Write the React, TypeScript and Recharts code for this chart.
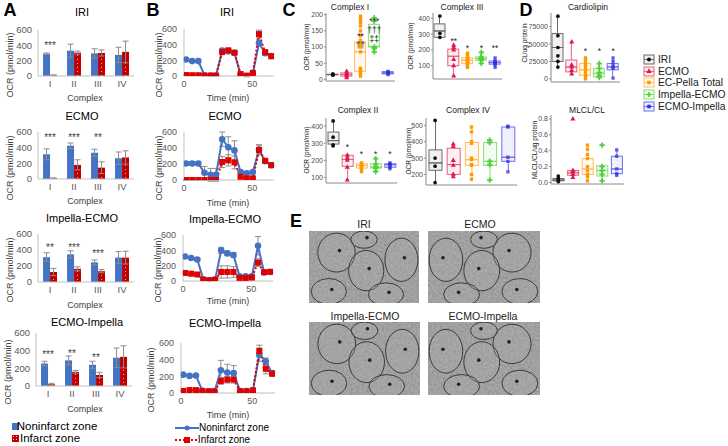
import React from 'react';
import {
  ComposedChart, LineChart, Bar, Line, Scatter, XAxis, YAxis, ErrorBar, Symbols,
} from 'recharts';

const FONT = '"Liberation Sans", Arial, Helvetica, sans-serif';
const BLUE = '#4472C4';
const RED = '#C00000';
const LINE_RED = '#E00000';

// ---------- A: OCR per complex, noninfarct vs infarct ----------
const COMPLEXES = ['I', 'II', 'III', 'IV'];
const MODELS = ['IRI', 'ECMO', 'Impella-ECMO', 'ECMO-Impella'];
const A_NON = [[290, 330, 295, 275], [315, 425, 335, 265], [310, 345, 245, 305], [255, 290, 240, 320]];
const A_NON_ERR = [[10, 85, 60, 100], [70, 35, 45, 80], [55, 45, 30, 75], [25, 50, 40, 110]];
const A_INF = [[10, 305, 300, 315], [10, 180, 145, 275], [125, 165, 135, 305], [20, 160, 125, 330]];
const A_INF_ERR = [[5, 20, 40, 140], [5, 65, 75, 85], [45, 25, 20, 80], [10, 15, 30, 125]];
const A_STARS = [['***', '', '', ''], ['***', '***', '**', ''], ['**', '***', '***', ''], ['***', '**', '**', '']];
const A_STAR_AT = [[430, null, null, null], [550, 550, 550, null], [460, 460, 380, null], [375, 385, 350, null]];
const OCR_TICKS = [0, 200, 400, 600];

// ---------- B: OCR traces over time ----------
const B_TIME = [1.5, 6, 10.5, 15, 19.5, 23.5, 28, 32.5, 37, 41.5, 46, 50.5, 55, 59.5, 64];
const B_NON = [
  [210, 190, 190, 10, 5, 5, 325, 315, 295, 15, 0, 30, 420, 290, 255],
  [207, 207, 207, 90, 65, 65, 510, 410, 370, 100, 85, 100, 380, 235, 185],
  [320, 300, 280, 20, 10, 15, 400, 360, 340, 60, 60, 60, 460, 110, 118],
  [220, 205, 210, 25, 20, 20, 272, 245, 238, 22, 22, 32, 460, 380, 238],
];
const B_NON_ERR = [
  [10, 10, 10, 5, 5, 5, 20, 20, 20, 10, 10, 10, 40, 20, 20],
  [20, 20, 20, 80, 80, 80, 90, 130, 120, 20, 20, 20, 60, 20, 20],
  [15, 15, 15, 10, 10, 10, 40, 30, 30, 10, 10, 10, 120, 10, 10],
  [10, 10, 10, 5, 5, 5, 120, 100, 90, 5, 5, 5, 80, 40, 30],
];
const B_INF = [
  [12, 10, 10, 5, 5, 5, 305, 328, 298, 25, 5, 40, 535, 305, 252],
  [0, 0, 0, 0, 0, 0, 225, 245, 220, 40, 20, 20, 375, 240, 185],
  [105, 95, 85, 18, 10, 18, 118, 118, 118, 40, 40, 45, 240, 115, 120],
  [25, 35, 35, 25, 20, 20, 145, 160, 160, 22, 22, 32, 504, 290, 232],
];
const B_INF_ERR = [
  [5, 5, 5, 5, 5, 5, 20, 20, 20, 10, 5, 10, 50, 20, 20],
  [5, 5, 5, 5, 5, 5, 70, 70, 80, 10, 10, 10, 60, 20, 10],
  [10, 10, 10, 5, 5, 5, 80, 80, 70, 20, 20, 20, 50, 10, 10],
  [5, 10, 10, 5, 5, 5, 40, 40, 40, 5, 5, 5, 70, 60, 30],
];

// ---------- C / D: box plots ----------
const GROUPS = ['IRI', 'ECMO', 'EC-Pella Total', 'Impella-ECMO', 'ECMO-Impella'];
const G_POINT = ['#111111', '#E0174F', '#FF9900', '#4FCF3C', '#2F2FE0'];
const G_BOX = ['#6b6b6b', '#E8607F', '#FFBF5E', '#86E073', '#6f6fee'];
const G_SHAPE = ['circle', 'triangle', 'square', 'cross', 'square'];

// [min, q1, median, q3, max]
const C1_BOX = [[13, 14, 15, 16, 17], [5, 10, 15, 20, 25], [10, 25, 85, 115, 195], [85, 100, 102, 170, 190], [15, 17, 20, 24, 25]];
const C1_PTS = [[13, 15, 17], [5, 10, 15, 20, 25], [10, 15, 22, 30, 35, 85, 100, 110, 120, 135, 150, 165, 175, 185, 195], [85, 95, 100, 180, 190], [15, 18, 20, 23, 25]];
const C1_NOTES: [number, number, string][] = [[3, 138, '**'], [3, 108, '††'], [4, 184, '***'], [4, 156, '†††'], [4, 128, '‡‡']];

const C3_BOX = [[280, 280, 320, 365, 415], [35, 100, 160, 205, 230], [90, 115, 135, 150, 180], [115, 135, 145, 155, 185], [90, 110, 120, 130, 150]];
const C3_PTS = [[280, 305, 415], [35, 100, 140, 200, 215, 230], [90, 100, 110, 115, 120, 125, 130, 135, 140, 145, 150, 160, 170, 180], [115, 135, 140, 150, 155, 185], [90, 105, 115, 120, 125, 130, 150]];
const C3_NOTES: [number, number, string][] = [[2, 262, '**'], [3, 219, '*'], [4, 219, '*'], [5, 219, '**']];

const C2_BOX = [[285, 295, 315, 365, 430], [85, 165, 205, 230, 235], [135, 155, 170, 180, 185], [135, 155, 160, 180, 210], [150, 160, 175, 180, 185]];
const C2_PTS = [[285, 290, 335, 430], [85, 160, 200, 215, 230], [135, 145, 155, 160, 165, 170, 175, 180, 185], [135, 155, 160, 165, 180, 210], [150, 160, 170, 175, 180, 185]];
const C2_NOTES: [number, number, string][] = [[2, 281, '*'], [3, 241, '*'], [4, 241, '*'], [5, 241, '*']];

const C4_BOX = [[150, 225, 270, 350, 530], [185, 200, 260, 360, 385], [170, 255, 290, 395, 490], [165, 255, 280, 395, 410], [215, 280, 305, 490, 495]];
const C4_PTS = [[150, 250, 300, 530], [185, 200, 255, 285, 370, 385], [170, 200, 255, 260, 290, 300, 390, 400, 460, 490], [165, 260, 280, 395, 410], [215, 280, 305, 490, 495]];

const CL_BOX = [[17000, 25000, 45000, 65000, 90000], [7000, 10000, 17000, 27000, 53000], [0, 5000, 13000, 22000, 30000], [2000, 3000, 8000, 15000, 22000], [1000, 13000, 17000, 22000, 30000]];
const CL_PTS = [[17000, 25000, 33000, 45000, 62000, 90000], [7000, 12000, 17000, 20000, 53000], [0, 3000, 6000, 10000, 14000, 18000, 22000, 26000, 30000], [2000, 5000, 9000, 15000, 22000], [1000, 15000, 17000, 20000, 25000, 30000]];
const CL_NOTES: [number, number, string][] = [[3, 41000, '*'], [4, 41000, '*'], [5, 41000, '*']];

const ML_BOX = [[0.01, 0.02, 0.03, 0.05, 0.08], [0.06, 0.09, 0.12, 0.15, 0.16], [0.02, 0.1, 0.17, 0.3, 0.47], [0.02, 0.08, 0.15, 0.21, 0.22], [0.09, 0.11, 0.17, 0.33, 0.41]];
const ML_PTS = [[0.01, 0.03, 0.05, 0.08], [0.06, 0.1, 0.13, 0.15, 0.8], [0.02, 0.07, 0.1, 0.15, 0.2, 0.3, 0.35, 0.42, 0.47], [0.02, 0.1, 0.15, 0.2, 0.47], [0.09, 0.11, 0.17, 0.33, 0.41]];

// ---------- layout ----------
type Rect = [number, number, number, number];
const A_PLOTS: Rect[] = [[38, 30, 134, 76], [38, 132, 134, 179], [38, 234, 134, 282], [36, 333, 132, 386]];
const A_TITLES = [[82, 12], [82, 116], [82, 218], [87, 322]];
const A_XLAB = [98, 201, 305, 409];
const B_PLOTS: Rect[] = [[184, 29, 274, 76], [184, 132, 274, 180], [183, 235, 273, 281], [181, 343, 275, 393]];
const B_TITLES = [[227, 12], [225, 116], [225, 219], [225, 323]];
const B_XLAB = [98, 203, 301, 415];
const B_YLAB_X = [159, 159, 158, 151];

function frame(r: Rect, yw: number, xh: number, mt = 2, mr = 4) {
  const [x0, y0, x1, y1] = r;
  return {
    left: x0 - yw, top: y0 - mt,
    w: yw + (x1 - x0) + mr, h: mt + (y1 - y0) + xh,
    margin: { top: mt, right: mr, bottom: 0, left: 0 },
  };
}

function Txt({ x, y, size = 10, rot = 0, weight = 400, color = '#000', children }: any) {
  return (
    <div style={{
      position: 'absolute', left: x, top: y, transform: `translate(-50%,-50%) rotate(${rot}deg)`,
      fontSize: size, fontWeight: weight, color, whiteSpace: 'nowrap', lineHeight: 1, zIndex: 2,
    }}>{children}</div>
  );
}

const starDot = (p: any) => {
  const s = p.payload?.star;
  if (!s || p.cy == null || isNaN(p.cy)) return <g key={p.index} />;
  return <text key={p.index} x={p.cx} y={p.cy + 5.5} textAnchor="middle" fontSize={10} fill="#404040">{s}</text>;
};

const TICK_A = { fontSize: 9.5, fill: '#595959' };
const TICK_B = { fontSize: 9, fill: '#595959' };

function OcrBars({ k }: { k: number }) {
  const rows = COMPLEXES.map((c, i) => ({
    c, non: A_NON[k][i], nonErr: A_NON_ERR[k][i], inf: A_INF[k][i], infErr: A_INF_ERR[k][i],
    star: A_STARS[k][i], starY: A_STAR_AT[k][i],
  }));
  const f = frame(A_PLOTS[k], 34, 16, 8);
  const pid = `dots${k}`;
  return (
    <div style={{ position: 'absolute', left: f.left, top: f.top }}>
      <ComposedChart width={f.w} height={f.h} data={rows} margin={f.margin} barGap={0} barCategoryGap="21%">
        <defs>
          <pattern id={pid} width="4" height="4" patternUnits="userSpaceOnUse">
            <rect width="4" height="4" fill={RED} />
            <circle cx="1.5" cy="1.5" r="0.55" fill="#ffc4c4" />
          </pattern>
        </defs>
        <XAxis dataKey="c" tickLine={false} tickMargin={-2} tick={TICK_A} interval={0}
          axisLine={{ stroke: '#bfbfbf' }} height={16} />
        <YAxis type="number" domain={[0, 600]} ticks={OCR_TICKS} interval={0} allowDataOverflow tickLine={false}
          tickMargin={0} tick={TICK_A} axisLine={{ stroke: '#bfbfbf' }} width={34} />
        <Bar dataKey="non" fill={BLUE} isAnimationActive={false}>
          <ErrorBar dataKey="nonErr" width={3} stroke="#8c8c8c" strokeWidth={1} />
        </Bar>
        <Bar dataKey="inf" fill={`url(#${pid})`} isAnimationActive={false}>
          <ErrorBar dataKey="infErr" width={3} stroke="#8c8c8c" strokeWidth={1} />
        </Bar>
        <Line dataKey="starY" stroke="none" dot={starDot} activeDot={false} isAnimationActive={false} />
      </ComposedChart>
    </div>
  );
}

const squareDot = (p: any) => {
  if (p.cy == null || isNaN(p.cy)) return <g key={p.index} />;
  return <rect key={p.index} x={p.cx - 3} y={p.cy - 3} width={6} height={6} fill={LINE_RED} />;
};

function OcrTrace({ k }: { k: number }) {
  const rows = B_TIME.map((t, i) => ({
    t, non: B_NON[k][i], nonErr: B_NON_ERR[k][i], inf: B_INF[k][i], infErr: B_INF_ERR[k][i],
  }));
  const f = frame(B_PLOTS[k], 24, 16, 8);
  return (
    <div style={{ position: 'absolute', left: f.left, top: f.top }}>
      <LineChart width={f.w} height={f.h} data={rows} margin={f.margin}>
        <XAxis dataKey="t" type="number" domain={[0, 66]} ticks={[0, 50]} interval={0} allowDataOverflow tickLine={false}
          tickMargin={-1} tick={TICK_B} axisLine={{ stroke: '#bfbfbf' }} height={16} />
        <YAxis type="number" domain={[0, 600]} ticks={OCR_TICKS} interval={0} allowDataOverflow tickLine={false}
          tickMargin={1} tick={TICK_B} axisLine={{ stroke: '#bfbfbf' }} width={24} />
        <Line dataKey="non" stroke={BLUE} strokeWidth={2} dot={{ r: 2.3, fill: BLUE, stroke: BLUE }} activeDot={false} isAnimationActive={false}>
          <ErrorBar dataKey="nonErr" width={3} stroke="#8c8c8c" strokeWidth={1} direction="y" />
        </Line>
        <Line dataKey="inf" stroke={LINE_RED} strokeWidth={2} strokeDasharray="2 2" dot={squareDot} activeDot={false} isAnimationActive={false}>
          <ErrorBar dataKey="infErr" width={3} stroke="#8c8c8c" strokeWidth={1} direction="y" />
        </Line>
      </LineChart>
    </div>
  );
}

const gOf = (p: any) => (p.payload?.g ?? p.index + 1) - 1;
const whisker = (p: any) => {
  const c = G_BOX[gOf(p)];
  const cx = p.x + p.width / 2;
  return <line x1={cx} x2={cx} y1={p.y} y2={p.y + p.height} stroke={c} strokeWidth={1} />;
};
const boxPart = (p: any) => {
  const c = G_BOX[gOf(p)];
  return <rect x={p.x} y={p.y} width={p.width} height={Math.max(p.height, 0)} fill={c} fillOpacity={0.1} stroke={c} strokeWidth={1} />;
};
const noteShape = (p: any) => (
  <text x={p.cx} y={p.cy + 4} textAnchor="middle" fontSize={8.5} fill="#222">{p.payload.t}</text>
);

type BoxSpec = {
  plot: Rect; domain: [number, number]; ticks: number[]; fmt?: (v: number) => string;
  box: number[][]; pts: number[][]; notes: [number, number, string][]; barSize: number; yw: number;
};

function BoxPanel({ s }: { s: BoxSpec }) {
  const rows = s.box.map(([mn, q1, md, q3, mx], i) => ({
    g: i + 1, base: mn, w1: q1 - mn, b1: md - q1, b2: q3 - md, w2: mx - q3,
  }));
  const f = frame(s.plot, s.yw, 2, 4, 3);
  const ax = { stroke: '#8a8a8a' };
  return (
    <div style={{ position: 'absolute', left: f.left, top: f.top }}>
      <ComposedChart width={f.w} height={f.h} data={rows} margin={f.margin}>
        <XAxis dataKey="g" type="number" domain={[0.5, 5.5]} ticks={[1, 2, 3, 4, 5]} tick={false} tickLine={false}
          axisLine={ax} height={2} />
        <YAxis type="number" domain={s.domain} ticks={s.ticks} interval={0} allowDataOverflow tickFormatter={s.fmt}
          tick={{ fontSize: 7, fill: '#4d4d4d' }} tickSize={2} tickMargin={1} tickLine={ax} axisLine={ax} width={s.yw} />
        <Bar dataKey="base" stackId="b" barSize={s.barSize} shape={() => <g />} isAnimationActive={false} />
        <Bar dataKey="w1" stackId="b" barSize={s.barSize} shape={whisker} isAnimationActive={false} />
        <Bar dataKey="b1" stackId="b" barSize={s.barSize} shape={boxPart} isAnimationActive={false} />
        <Bar dataKey="b2" stackId="b" barSize={s.barSize} shape={boxPart} isAnimationActive={false} />
        <Bar dataKey="w2" stackId="b" barSize={s.barSize} shape={whisker} isAnimationActive={false} />
        {s.pts.map((arr, gi) => (
          <Scatter key={gi} data={arr.map((v) => ({ g: gi + 1, v }))} dataKey="v" isAnimationActive={false}
            shape={(p: any) => (
              <Symbols cx={p.cx} cy={p.cy} type={G_SHAPE[gi] as any} size={gi === 3 ? 16 : 11}
                fill={G_POINT[gi]} fillOpacity={gi === 4 ? 0.75 : 1} />
            )} />
        ))}
        <Scatter data={s.notes.map(([g, v, t]) => ({ g, v, t }))} dataKey="v" shape={noteShape} isAnimationActive={false} />
      </ComposedChart>
    </div>
  );
}

const BOXES: { s: BoxSpec; title: string; tx: number; ty: number; label: string; lx: number; ly: number }[] = [
  { s: { plot: [326, 13, 395, 81], domain: [-5, 205], ticks: [0, 50, 100, 150, 200], box: C1_BOX, pts: C1_PTS, notes: C1_NOTES, barSize: 11, yw: 16 },
    title: 'Complex I', tx: 350, ty: 7, label: 'OCR (pmol/min)', lx: 307, ly: 47 },
  { s: { plot: [433, 13, 502, 79], domain: [16, 434], ticks: [100, 200, 300, 400], box: C3_BOX, pts: C3_PTS, notes: C3_NOTES, barSize: 11, yw: 16 },
    title: 'Complex III', tx: 462, ty: 7, label: 'OCR (pmol/min)', lx: 411, ly: 46 },
  { s: { plot: [326, 118, 397, 183], domain: [68, 447], ticks: [100, 200, 300, 400], box: C2_BOX, pts: C2_PTS, notes: C2_NOTES, barSize: 11, yw: 16 },
    title: 'Complex II', tx: 358, ty: 110, label: 'OCR (pmol/min)', lx: 307, ly: 150 },
  { s: { plot: [426, 118, 517, 185], domain: [135, 545], ticks: [200, 300, 400, 500], box: C4_BOX, pts: C4_PTS, notes: [], barSize: 13, yw: 16 },
    title: 'Complex IV', tx: 468, ty: 110, label: 'OCR (pmol/min)', lx: 409, ly: 151 },
  { s: { plot: [551, 13, 620, 82], domain: [-4500, 94500], ticks: [0, 25000, 50000, 75000], box: CL_BOX, pts: CL_PTS, notes: CL_NOTES, barSize: 11, yw: 22 },
    title: 'Cardiolipin', tx: 588, ty: 7, label: 'CL/ug protein', lx: 525, ly: 43 },
  { s: { plot: [551, 115, 624, 184], domain: [-0.02, 0.85], ticks: [0, 0.2, 0.4, 0.6, 0.8], fmt: (v) => v.toFixed(1), box: ML_BOX, pts: ML_PTS, notes: [], barSize: 11, yw: 16 },
    title: 'MLCL/CL', tx: 587, ty: 110, label: 'MLCL/CL/ug protein', lx: 535, ly: 150 },
];

function LegendD() {
  return (
    <>
      {GROUPS.map((g, i) => (
        <div key={g} style={{ position: 'absolute', left: 643, top: 54 + i * 11.7, display: 'flex', alignItems: 'center', height: 11 }}>
          <svg width={12} height={11}>
            <rect x={1} y={1} width={10} height={9} fill={G_BOX[i]} fillOpacity={0.1} stroke={G_BOX[i]} />
            <line x1={1} x2={11} y1={5.5} y2={5.5} stroke={G_BOX[i]} />
            <Symbols cx={6} cy={5.5} type={G_SHAPE[i] as any} size={13} fill={G_POINT[i]} />
          </svg>
          <span style={{ fontSize: 10.3, color: '#222', marginLeft: 3, whiteSpace: 'nowrap' }}>{g}</span>
        </div>
      ))}
    </>
  );
}

// ---------- E: micrograph placeholders ----------
const E_PANELS = [
  { t: 'IRI', tx: 364, ty: 224, r: [309, 231, 419, 303] },
  { t: 'ECMO', tx: 480, ty: 224, r: [428, 231, 540, 303] },
  { t: 'Impella-ECMO', tx: 365, ty: 316, r: [309, 322, 420, 395] },
  { t: 'ECMO-Impella', tx: 483, ty: 316, r: [428, 322, 540, 395] },
];
const BLOBS = [[0.25, 0.3, 0.17, 0.27], [0.52, 0.55, 0.16, 0.28], [0.84, 0.4, 0.15, 0.3], [0.18, 0.84, 0.16, 0.18], [0.7, 0.88, 0.16, 0.16], [0.5, 0.12, 0.12, 0.12]];

function Micro({ r, i }: { r: number[]; i: number }) {
  const w = r[2] - r[0];
  const h = r[3] - r[1];
  const fid = `grain${i}`;
  const flip = i % 2 === 1;
  return (
    <svg style={{ position: 'absolute', left: r[0], top: r[1] }} width={w} height={h}>
      <defs>
        <filter id={fid} x="0" y="0" width="100%" height="100%">
          <feTurbulence type="fractalNoise" baseFrequency="0.45" numOctaves={2} seed={i + 3} />
          <feColorMatrix type="matrix" values="0.33 0.33 0.33 0 0  0.33 0.33 0.33 0 0  0.33 0.33 0.33 0 0  0 0 0 0 1" />
        </filter>
      </defs>
      <rect width={w} height={h} filter={`url(#${fid})`} />
      <rect width={w} height={h} fill="#8a8a8a" fillOpacity={0.55} />
      <g transform={flip ? `translate(${w},0) scale(-1,1)` : undefined}>
        {BLOBS.map(([cx, cy, rx, ry], j) => (
          <g key={j}>
            <ellipse cx={cx * w} cy={cy * h} rx={rx * w} ry={ry * h} fill="#b0b0b0" fillOpacity={0.25} stroke="#3a3a3a" strokeWidth={1} />
            <circle cx={cx * w + 3} cy={cy * h - 2} r={1.8} fill="#222" />
          </g>
        ))}
      </g>
    </svg>
  );
}

export default function App() {
  return (
    <div style={{ position: 'absolute', left: 0, top: 0, width: 728, height: 446, background: '#fff', fontFamily: FONT, overflow: 'hidden' }}>
      <Txt x={10} y={10} size={18} weight={700}>A</Txt>
      <Txt x={153} y={10} size={18} weight={700}>B</Txt>
      <Txt x={289} y={10} size={18} weight={700}>C</Txt>
      <Txt x={526} y={10} size={18} weight={700}>D</Txt>
      <Txt x={296} y={221} size={18} weight={700}>E</Txt>

      {MODELS.map((m, k) => {
        const [x0, y0, , y1] = A_PLOTS[k];
        return (
          <React.Fragment key={'a' + m}>
            <OcrBars k={k} />
            <Txt x={A_TITLES[k][0]} y={A_TITLES[k][1]} size={11}>{m}</Txt>
            <Txt x={x0 - 28} y={(y0 + y1) / 2 + 12} size={9} rot={-90} color="#404040">OCR (pmol/min)</Txt>
            <Txt x={85} y={A_XLAB[k]} size={9} color="#404040">Complex</Txt>
          </React.Fragment>
        );
      })}
      <div style={{ position: 'absolute', left: 12, top: 423, width: 7, height: 7, background: BLUE }} />
      <Txt x={57} y={427} size={11.5}>Noninfarct zone</Txt>
      <div style={{
        position: 'absolute', left: 12, top: 435, width: 7, height: 7, backgroundColor: RED,
        backgroundImage: 'radial-gradient(#ffc4c4 0.6px, transparent 0.9px)', backgroundSize: '3px 3px',
      }} />
      <Txt x={50} y={439} size={11.5}>Infarct zone</Txt>

      {MODELS.map((m, k) => {
        const [, y0, , y1] = B_PLOTS[k];
        return (
          <React.Fragment key={'b' + m}>
            <OcrTrace k={k} />
            <Txt x={B_TITLES[k][0]} y={B_TITLES[k][1]} size={11}>{m}</Txt>
            <Txt x={B_YLAB_X[k]} y={(y0 + y1) / 2 + 12} size={9} rot={-90} color="#404040">OCR (pmol/min)</Txt>
            <Txt x={228} y={B_XLAB[k]} size={9} color="#404040">Time (min)</Txt>
          </React.Fragment>
        );
      })}
      <svg style={{ position: 'absolute', left: 172, top: 422 }} width={30} height={24}>
        <line x1={3} x2={27} y1={6} y2={6} stroke={BLUE} strokeWidth={2} />
        <circle cx={15} cy={6} r={2.5} fill={BLUE} />
        <line x1={3} x2={27} y1={18} y2={18} stroke={LINE_RED} strokeWidth={2} strokeDasharray="2 2" />
        <rect x={12} y={15} width={6} height={6} fill={LINE_RED} />
      </svg>
      <Txt x={234} y={428} size={10}>Noninfarct zone</Txt>
      <Txt x={224} y={440} size={10}>Infarct zone</Txt>

      {BOXES.map((b) => (
        <React.Fragment key={b.title}>
          <BoxPanel s={b.s} />
          <Txt x={b.tx} y={b.ty} size={8.5} color="#1a1a1a">{b.title}</Txt>
          <Txt x={b.lx} y={b.ly} size={6.5} rot={-90} color="#222">{b.label}</Txt>
        </React.Fragment>
      ))}
      <LegendD />

      {E_PANELS.map((p, i) => (
        <React.Fragment key={p.t}>
          <Txt x={p.tx} y={p.ty} size={10.5} color="#222">{p.t}</Txt>
          <Micro r={p.r} i={i} />
        </React.Fragment>
      ))}
    </div>
  );
}
